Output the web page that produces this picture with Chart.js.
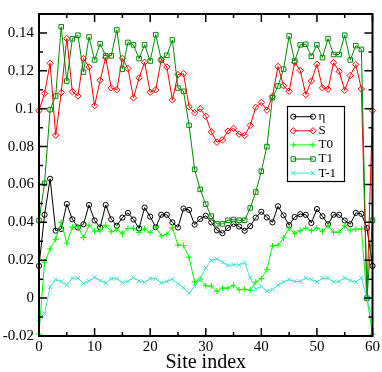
<!DOCTYPE html>
<html><head><meta charset="utf-8">
<script src="https://cdn.jsdelivr.net/npm/chart.js@4/dist/chart.umd.min.js"></script>
<style>html,body{margin:0;padding:0;background:#fff;}canvas{display:block;}</style>
</head><body>
<canvas id="c" width="382" height="372"></canvas>
<script>
const sites = [0,1,2,3,4,5,6,7,8,9,10,11,12,13,14,15,16,17,18,19,20,21,22,23,24,25,26,27,28,29,30,
  31,32,33,34,35,36,37,38,39,40,41,42,43,44,45,46,47,48,49,50,51,52,53,54,55,56,57,58,59,60];
const eta = [0.017,0.044,0.063,0.0356,0.0365,0.0497,0.0416,0.0373,0.039,0.0492,
  0.041,0.0373,0.0492,0.0416,0.0382,0.0425,0.045,0.0415,0.0368,0.0478,
  0.043,0.0375,0.044,0.044,0.040,0.0373,0.0473,0.0466,0.0388,0.0418,
  0.0435,0.040,0.0358,0.0343,0.037,0.0392,0.0378,0.0356,0.038,0.0425,
  0.0456,0.0426,0.040,0.0485,0.0437,0.0385,0.0428,0.0443,0.044,0.0397,
  0.047,0.0432,0.039,0.044,0.044,0.041,0.039,0.045,0.0445,0.037,
  0.017];
const S = [0.099,0.108,0.124,0.086,0.1085,0.137,0.109,0.1067,0.1265,0.122,
  0.1016,0.115,0.127,0.111,0.110,0.1266,0.1212,0.1057,0.1163,0.1245,
  0.1087,0.110,0.126,0.122,0.1046,0.118,0.1185,0.101,0.0978,0.100,
  0.096,0.0878,0.0823,0.0835,0.0882,0.0896,0.0866,0.0858,0.0912,0.1007,
  0.1033,0.0992,0.1065,0.1223,0.1121,0.1092,0.1245,0.1202,0.1075,0.1146,
  0.1235,0.111,0.1103,0.1243,0.1197,0.1097,0.1175,0.1233,0.1104,0,
  0.099];
const T0 = [-0.019,0.019,0.026,0.031,0.040,0.029,0.0375,0.0377,0.032,0.0385,
  0.0354,0.0354,0.0385,0.035,0.036,0.034,0.0368,0.0369,0.0346,0.0366,
  0.0346,0.0375,0.0328,0.0337,0.0373,0.028,0.0278,0.0216,0.0085,0.010,
  0.0065,0.0063,0.0036,0.0053,0.0053,0.0068,0.0044,0.0047,0.0042,0.0085,
  0.0103,0.015,0.0275,0.028,0.0318,0.037,0.034,0.0356,0.037,0.0356,
  0.037,0.0353,0.0382,0.0348,0.0348,0.0382,0.0356,0.0365,0.0365,0,
  -0.019];
const T1 = [0.041,0.0606,0.0995,0.1067,0.1433,0.1146,0.1369,0.1388,0.1193,0.1379,
  0.1257,0.1343,0.1279,0.1279,0.1416,0.1209,0.135,0.1337,0.1265,0.1337,
  0.1252,0.1391,0.1257,0.1282,0.1363,0.1109,0.1092,0.0912,0.068,0.0574,
  0.0496,0.0433,0.0392,0.0392,0.0411,0.0415,0.0411,0.0411,0.0476,0.056,
  0.067,0.080,0.1058,0.112,0.1209,0.1384,0.1252,0.1337,0.134,0.1277,
  0.1337,0.127,0.137,0.1286,0.1286,0.1388,0.1257,0.1333,0.1313,0,
  0.041];
const Tm1 = [-0.011,-0.0081,0.0059,0.0098,0.0088,0.007,0.0105,0.0105,0.0078,0.009,
  0.011,0.0093,0.008,0.0103,0.0103,0.0082,0.0089,0.0108,0.009,0.0083,
  0.0103,0.0103,0.0081,0.0088,0.010,0.0076,0.0055,0.0025,0.0063,0.010,
  0.016,0.020,0.0207,0.019,0.0172,0.0176,0.0176,0.0187,0.0108,0.0046,
  0.0062,0.0037,0.0046,0.0068,0.0085,0.0098,0.0088,0.0088,0.0107,0.0098,
  0.0085,0.0105,0.0105,0.0085,0.0088,0.0107,0.0093,0.0085,0.0107,0,
  -0.011];
const seriesNames = ['\u03b7','S','T0','T1','T-1'];
const xTicks = [0,10,20,30,40,50,60];
const xTickLabels = ['0','10','20','30','40','50','60'];
const xMinorTicks = [5,15,25,35,45,55];
const yTicks = [-0.02,0,0.02,0.04,0.06,0.08,0.1,0.12,0.14];
const yTickLabels = ['-0.02','0','0.02','0.04','0.06','0.08','0.1','0.12','0.14'];
const yMinorTicks = [-0.01,0.01,0.03,0.05,0.07,0.09,0.11,0.13];

const FONT = "'Liberation Serif','DejaVu Serif',serif";
function pts(arr){ return arr.map((v,i)=>({x:sites[i], y:v})); }
const styles = [
  {color:'#000000', style:'circle', r:2.6},
  {color:'#ff0000', style:'rectRot', r:3.2},
  {color:'#00ff00', style:'cross', r:3},
  {color:'#008b00', style:'rect', r:3.2},
  {color:'#40e0d0', style:'crossRot', r:3}
];
const allData = [eta,S,T0,T1,Tm1];
const datasets = allData.map((d,k)=>({
  label: seriesNames[k], data: pts(d),
  borderColor: styles[k].color, borderWidth: 1,
  pointStyle: styles[k].style, pointRadius: styles[k].r,
  pointBorderColor: styles[k].color, pointBackgroundColor: 'rgba(0,0,0,0)',
  pointBorderWidth: 1, tension: 0, fill: false, clip: false, order: 5-k
}));

function drawMarker(ctx, style, r, x, y){
  ctx.beginPath();
  if (style==='circle'){ ctx.arc(x,y,r,0,Math.PI*2); }
  else if (style==='rectRot'){ ctx.moveTo(x,y-r);ctx.lineTo(x+r,y);ctx.lineTo(x,y+r);ctx.lineTo(x-r,y);ctx.closePath(); }
  else if (style==='rect'){ const s=r*Math.SQRT1_2; ctx.rect(x-s,y-s,2*s,2*s); }
  else if (style==='cross'){ ctx.moveTo(x-r,y);ctx.lineTo(x+r,y);ctx.moveTo(x,y-r);ctx.lineTo(x,y+r); }
  else if (style==='crossRot'){ const s=r*Math.SQRT1_2; ctx.moveTo(x-s,y-s);ctx.lineTo(x+s,y+s);ctx.moveTo(x-s,y+s);ctx.lineTo(x+s,y-s); }
  ctx.stroke();
}

const framePlugin = {
  id:'frame',
  afterDatasetsDraw(chart){
    const {ctx, chartArea:a, scales:{x,y}} = chart;
    ctx.save();
    ctx.strokeStyle='#000'; ctx.lineWidth=1.5;
    ctx.beginPath();
    const tickX=(vals,len)=>vals.forEach(v=>{const p=x.getPixelForValue(v);
      ctx.moveTo(p,a.bottom);ctx.lineTo(p,a.bottom-len);ctx.moveTo(p,a.top);ctx.lineTo(p,a.top+len);});
    const tickY=(vals,len)=>vals.forEach(v=>{const p=y.getPixelForValue(v);
      ctx.moveTo(a.left,p);ctx.lineTo(a.left+len,p);ctx.moveTo(a.right,p);ctx.lineTo(a.right-len,p);});
    tickX(xTicks,8); tickX(xMinorTicks,4); tickY(yTicks,8); tickY(yMinorTicks,4);
    ctx.stroke();
    ctx.lineWidth=2;
    ctx.strokeRect(a.left,a.top,a.right-a.left,a.bottom-a.top);
    ctx.restore();
  },
  afterDraw(chart){
    const ctx = chart.ctx;
    ctx.save();
    const bx=287.5, by=106.5, bw=57, bh=75;
    ctx.fillStyle='#fff'; ctx.fillRect(bx,by,bw,bh);
    ctx.strokeStyle='#000'; ctx.lineWidth=1.2; ctx.strokeRect(bx,by,bw,bh);
    ctx.font = "13px " + FONT; ctx.textBaseline='middle'; ctx.textAlign='left';
    seriesNames.forEach((n,k)=>{
      const yy = 116.7 + k*14.1;
      const st = styles[k];
      ctx.strokeStyle=st.color; ctx.lineWidth=1;
      ctx.beginPath(); ctx.moveTo(293.3,yy); ctx.lineTo(313,yy); ctx.stroke();
      drawMarker(ctx, st.style, st.r, 293.3, yy);
      drawMarker(ctx, st.style, st.r, 313, yy);
      ctx.fillStyle='#000'; ctx.fillText(n, 318.5, yy);
    });
    ctx.restore();
  }
};

new Chart(document.getElementById('c'), {
  type:'line',
  data:{datasets},
  options:{
    responsive:false, animation:false, devicePixelRatio:1,
    layout:{padding:{top:2,right:9,left:0,bottom:0}},
    plugins:{legend:{display:false}, tooltip:{enabled:false}},
    elements:{line:{borderJoinStyle:'miter'}},
    scales:{
      x:{type:'linear', min:0, max:60,
        afterFit:s=>{s.height=36;},
        afterBuildTicks:s=>{s.ticks=xTicks.map(v=>({value:v}));},
        ticks:{padding:2, color:'#000', font:{family:FONT,size:15}, maxRotation:0, autoSkip:false,
          callback:(v,i)=>xTickLabels[i]},
        grid:{display:false, drawTicks:false}, border:{display:false},
        title:{display:true, text:'Site index', color:'#000', padding:0,
          font:{family:FONT,size:20,lineHeight:0.9}}
      },
      y:{type:'linear', min:-0.02, max:0.15,
        afterFit:s=>{s.width=39;},
        afterBuildTicks:s=>{s.ticks=yTicks.map(v=>({value:v}));},
        ticks:{padding:5, color:'#000', font:{family:FONT,size:15}, autoSkip:false,
          callback:(v,i)=>yTickLabels[i]},
        grid:{display:false, drawTicks:false}, border:{display:false}
      }
    }
  },
  plugins:[framePlugin]
});
</script>
</body></html>
